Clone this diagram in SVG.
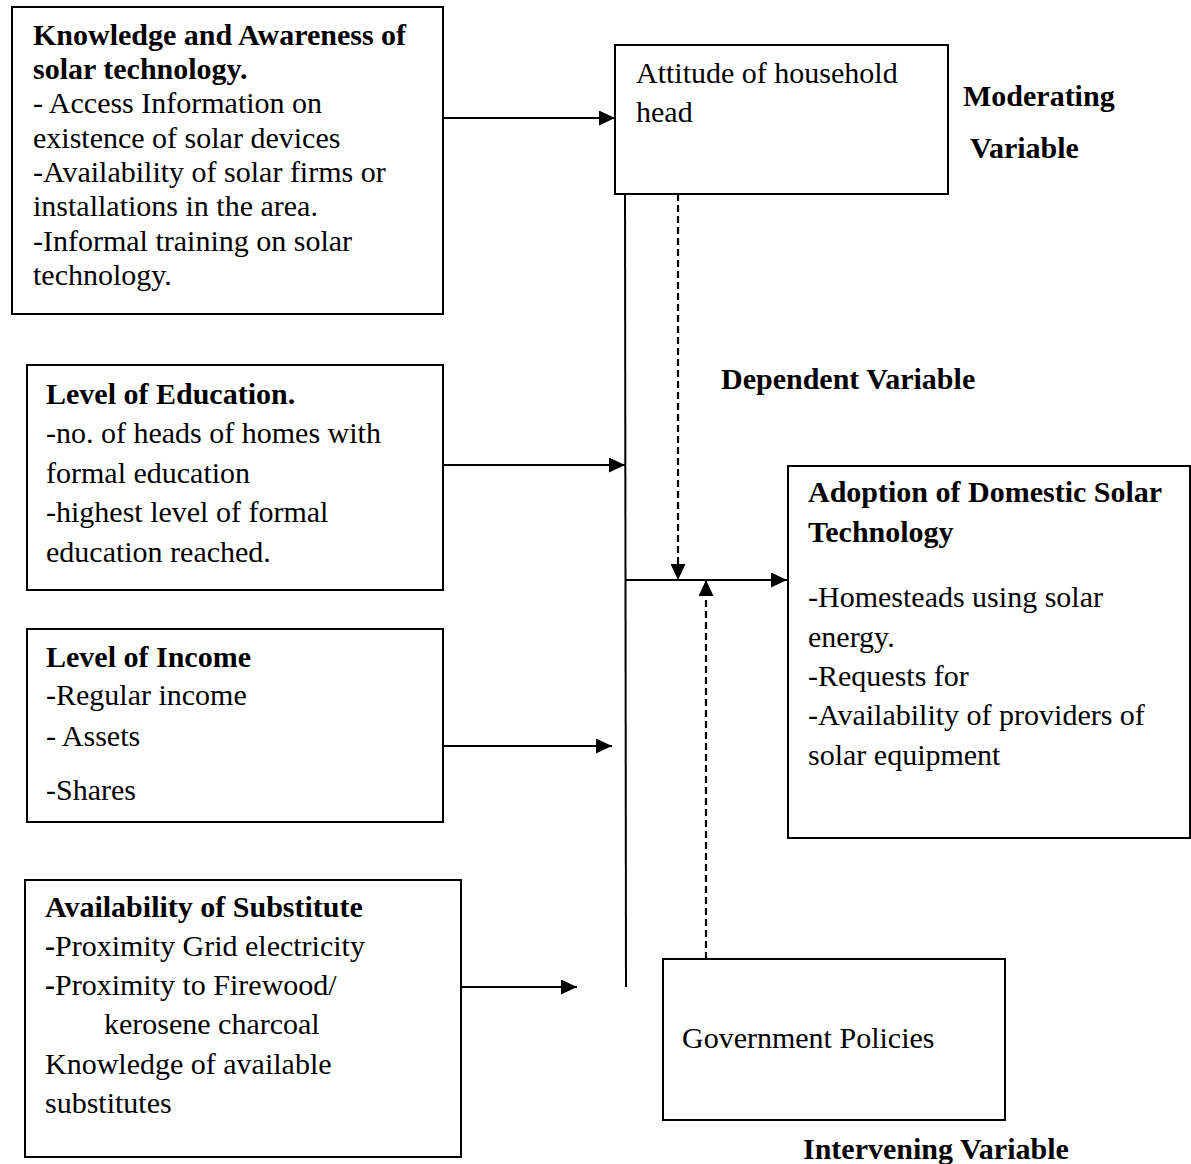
<svg xmlns="http://www.w3.org/2000/svg" width="1191" height="1164" viewBox="0 0 1191 1164">
<style>
text{font-family:"Liberation Serif","Times New Roman",serif;font-size:30px;fill:#000}
.b{font-weight:bold}
.box{fill:#fff;stroke:#000;stroke-width:2}
.ln{fill:none;stroke:#000;stroke-width:2}
.dash{fill:none;stroke:#000;stroke-width:2.2;stroke-dasharray:7 4}
</style>
<defs>
<marker id="ah" markerUnits="userSpaceOnUse" markerWidth="16" markerHeight="15" refX="16" refY="7.5" orient="auto">
<path d="M0,0 L16,7.5 L0,15 Z" fill="#000"/>
</marker>
</defs>
<rect width="1191" height="1164" fill="#fff"/>

<g id="knowledge">
<rect class="box" x="12" y="7" width="431" height="307"/>
<text class="b" x="33" y="45">Knowledge and Awareness of</text>
<text class="b" x="33" y="79">solar technology.</text>
<text x="33" y="113">- Access Information on</text>
<text x="33" y="148">existence of solar devices</text>
<text x="33" y="182">-Availability of solar firms or</text>
<text x="33" y="216">installations in the area.</text>
<text x="33" y="251">-Informal training on solar</text>
<text x="33" y="285">technology.</text>
</g>

<g id="attitude">
<rect class="box" x="615" y="45" width="333" height="149"/>
<text x="636" y="83">Attitude of household</text>
<text x="636" y="122">head</text>
</g>

<g id="moderating-label">
<text class="b" x="963" y="106">Moderating</text>
<text class="b" x="970" y="158">Variable</text>
</g>

<g id="dependent-label">
<text class="b" x="721" y="389">Dependent Variable</text>
</g>

<g id="education">
<rect class="box" x="27" y="365" width="416" height="225"/>
<text class="b" x="46" y="404">Level of Education.</text>
<text x="46" y="443">-no. of heads of homes with</text>
<text x="46" y="483">formal education</text>
<text x="46" y="522">-highest level of formal</text>
<text x="46" y="562">education reached.</text>
</g>

<g id="income">
<rect class="box" x="27" y="629" width="416" height="193"/>
<text class="b" x="46" y="667">Level of Income</text>
<text x="46" y="705">-Regular income</text>
<text x="46" y="746">- Assets</text>
<text x="46" y="800">-Shares</text>
</g>

<g id="substitute">
<rect class="box" x="25" y="880" width="436" height="277"/>
<text class="b" x="45" y="917">Availability of Substitute</text>
<text x="45" y="956"><tspan class="b">-</tspan>Proximity Grid electricity</text>
<text x="45" y="995"><tspan class="b">-</tspan>Proximity to Firewood/</text>
<text x="104" y="1034">kerosene charcoal</text>
<text x="45" y="1074">Knowledge of available</text>
<text x="45" y="1113">substitutes</text>
</g>

<g id="adoption">
<rect class="box" x="788" y="466" width="402" height="372"/>
<text class="b" x="808" y="502">Adoption of Domestic Solar</text>
<text class="b" x="808" y="542">Technology</text>
<text x="808" y="607">-Homesteads using solar</text>
<text x="808" y="647">energy.</text>
<text x="808" y="686">-Requests for</text>
<text x="808" y="725">-Availability of providers of</text>
<text x="808" y="765">solar equipment</text>
</g>

<g id="government">
<rect class="box" x="663" y="959" width="342" height="161"/>
<text x="682" y="1048">Government Policies</text>
</g>

<g id="intervening-label">
<text class="b" x="803" y="1159">Intervening Variable</text>
</g>

<g id="connectors">
<line class="ln" x1="443" y1="118" x2="615" y2="118" marker-end="url(#ah)"/>
<line class="ln" x1="625" y1="194" x2="626" y2="987"/>
<line class="dash" x1="678" y1="194" x2="678" y2="580" marker-end="url(#ah)"/>
<line class="ln" x1="626" y1="580" x2="787" y2="580" marker-end="url(#ah)"/>
<line class="dash" x1="706" y1="959" x2="706" y2="580" marker-end="url(#ah)"/>
<line class="ln" x1="443" y1="465" x2="625" y2="465" marker-end="url(#ah)"/>
<line class="ln" x1="443" y1="746" x2="612" y2="746" marker-end="url(#ah)"/>
<line class="ln" x1="461" y1="987" x2="577" y2="987" marker-end="url(#ah)"/>
</g>
</svg>
